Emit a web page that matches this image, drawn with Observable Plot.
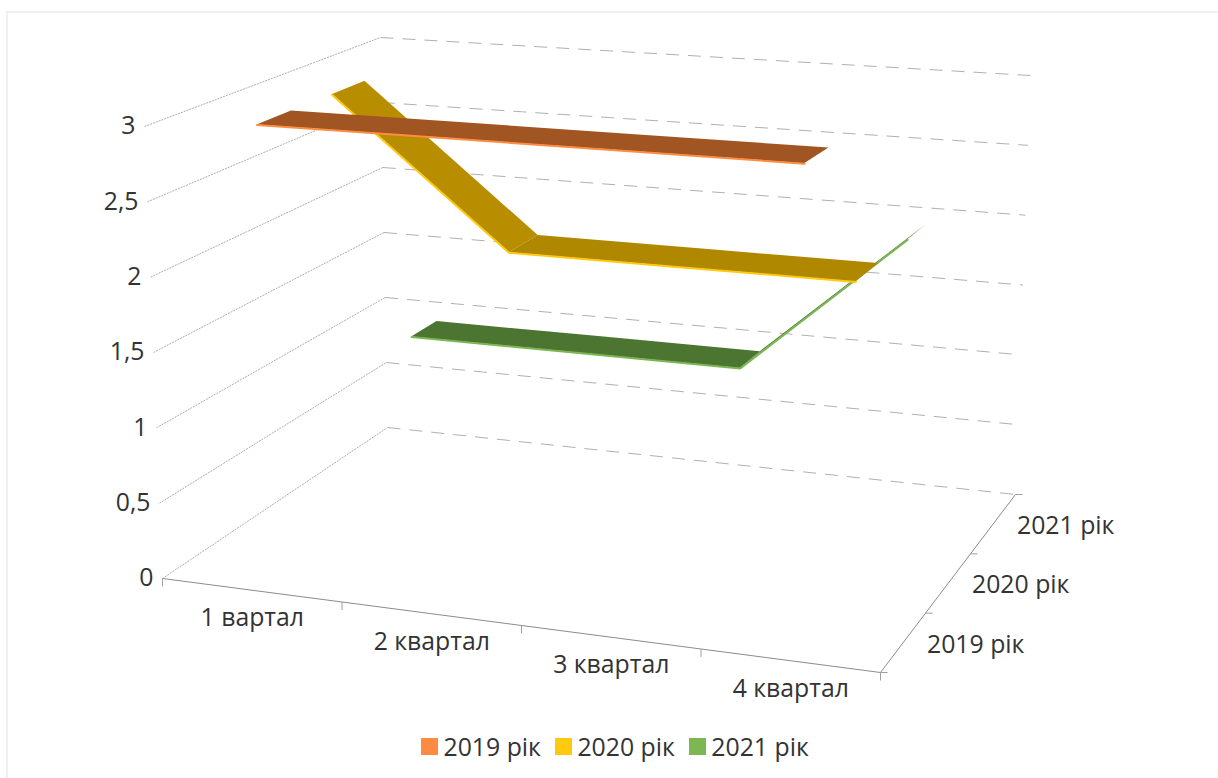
<!DOCTYPE html>
<html><head><meta charset="utf-8">
<script src="https://cdn.jsdelivr.net/npm/d3@7"></script>
<script src="https://cdn.jsdelivr.net/npm/@observablehq/plot@0.6"></script>
<style>
html,body{margin:0;padding:0;background:#fff;width:1218px;height:778px;overflow:hidden;font-family:"Open Sans",sans-serif;color:#333}
#frame{position:absolute;left:6px;top:11px;width:1212px;height:767px;border:solid #f0f0f0;border-width:2px 0 0 2px;box-sizing:border-box;pointer-events:none}
#chart{position:absolute;left:0;top:0}
#legend{position:absolute;left:421px;top:727px;height:38px;display:flex;align-items:center;font-size:24.8px;white-space:nowrap}
#legend span.s{display:inline-block;width:17px;height:17px;margin-right:5.5px}
#legend span.t{margin-right:14px}
</style></head><body>
<div id="frame"></div><div id="chart"></div><div id="legend"></div>
<script>
const quarters = ["1 вартал","2 квартал","3 квартал","4 квартал"];
const years = ["2019 рік","2020 рік","2021 рік"];
const v2019 = [3,3,3,3];
const v2020 = [3,2,2,2];
const v2021 = [1,1,1,2];
const valueTicks = [0,0.5,1,1.5,2,2.5,3];
const edgeColors = ["#ff8c3f","#ffc90e","#7cb652"];
const topColors = ["#a05522","#b08800","#4b7530"];
const swatchColors = ["#fd8b41","#ffc90f","#7cb753"];

// Camera calibration: where the eight corners of the 3D box fall on the page
const floorCorners = {fl:[162,578],fr:[880,672],bl:[387,427],br:[1015,494]};
const topCorners   = {fl:[144,126],fr:[882,179],bl:[380,37], br:[1030,75]};
const W=1218,H=728,nQ=quarters.length,nY=years.length,vMax=d3.max(valueTicks);
function plane(c,u,w,i){const a=u/nQ,b=w/nY;
  return (1-a)*(1-b)*c.fl[i]+a*(1-b)*c.fr[i]+(1-a)*b*c.bl[i]+a*b*c.br[i];}
function proj(u,w,v){const t=v/vMax;
  return {x:(1-t)*plane(floorCorners,u,w,0)+t*plane(topCorners,u,w,0),
          y:(1-t)*plane(floorCorners,u,w,1)+t*plane(topCorners,u,w,1)};}

const series=[v2019,v2020,v2021];
const bandFront=[0.27,0.27,0.27],bandBack=[0.73,0.71,0.62]; // ribbon depth narrows with distance

const wallLines=valueTicks.map(v=>{const a=proj(0,0,v),b=proj(0,nY,v);return {x1:a.x,y1:a.y,x2:b.x,y2:b.y};});
const backLines=valueTicks.map(v=>{const a=proj(0,nY,v),b=proj(nQ,nY,v);return {x1:a.x,y1:a.y,x2:b.x,y2:b.y};});
const catTicks=d3.range(nQ+1).map(u=>proj(u,0,0));
const yearTicks=d3.range(nY+1).map(w=>proj(nQ,w,0));

function ribbonMarks(k){
  const vals=series[k],out=[];
  let start=0;
  for(let i=0;i<vals.length-1;i++){
    const slope=vals[i+1]-vals[i];
    if(i+1<vals.length-1&&vals[i+2]-vals[i+1]===slope)continue;
    const seg=d3.range(start,i+2).map(j=>{const f=proj(j+.5,k+bandFront[k],vals[j]),b=proj(j+.5,k+bandBack[k],vals[j]);return {fx:f.x,fy:f.y,bx:b.x,by:b.y};});
    const shade=slope<0?d3.color(topColors[k]).brighter(0.12).formatHex():topColors[k];
    out.push(Plot.area(seg,{x1:"fx",y1:"fy",x2:"bx",y2:"by",fill:shade,curve:"linear"}));
    start=i+1;
  }
  const front=vals.map((v,j)=>proj(j+.5,k+bandFront[k],v));
  out.push(Plot.line(front,{x:"x",y:"y",stroke:edgeColors[k],strokeWidth:2,curve:"linear"}));
  return out;
}

const chart=Plot.plot({
  width:W,height:H,margin:0,style:{background:"transparent",fontFamily:'"Open Sans",sans-serif',overflow:"visible"},
  x:{domain:[0,W],range:[0,W],axis:null},
  y:{domain:[0,H],range:[0,H],axis:null},
  marks:[
    Plot.link(wallLines,{x1:"x1",y1:"y1",x2:"x2",y2:"y2",stroke:"#adadad",strokeWidth:1,strokeDasharray:"2,1",curve:"linear"}),
    Plot.link(backLines,{x1:"x1",y1:"y1",x2:"x2",y2:"y2",stroke:"#b0b0b0",strokeWidth:1,strokeDasharray:"13,9",curve:"linear"}),
    Plot.link([{a:proj(0,0,0),b:proj(nQ,0,0)},{a:proj(nQ,0,0),b:proj(nQ,nY,0)}],{x1:d=>d.a.x,y1:d=>d.a.y,x2:d=>d.b.x,y2:d=>d.b.y,stroke:"#8c8c8c",strokeWidth:1,curve:"linear"}),
    Plot.link(catTicks,{x1:"x",y1:"y",x2:"x",y2:d=>d.y+8,stroke:"#a0a0a0",strokeWidth:1}),
    Plot.link(yearTicks,{x1:"x",y1:"y",x2:d=>d.x+7,y2:"y",stroke:"#a0a0a0",strokeWidth:1}),
    ...ribbonMarks(2),...ribbonMarks(1),...ribbonMarks(0),
    Plot.text(valueTicks,{x:v=>proj(0,0,v).x,y:v=>proj(0,0,v).y,text:v=>String(v).replace(".",","),textAnchor:"end",dx:-9,fontSize:24.8,fill:"#333"}),
    Plot.text(quarters,{x:(d,i)=>proj(i+.5,0,0).x,y:(d,i)=>proj(i+.5,0,0).y,text:d=>d,dx:0,dy:28,fontSize:24.8,fill:"#333"}),
    Plot.text(years,{x:(d,i)=>proj(nQ,i+.5,0).x,y:(d,i)=>proj(nQ,i+.5,0).y,text:d=>d,textAnchor:"start",dx:24,dy:2,fontSize:24.8,fill:"#333"})
  ]
});
document.getElementById("chart").append(chart);
const lg=document.getElementById("legend");
years.forEach((y,i)=>{lg.insertAdjacentHTML("beforeend",`<span class="s" style="background:${swatchColors[i]}"></span><span class="t">${y}</span>`);});
</script></body></html>
